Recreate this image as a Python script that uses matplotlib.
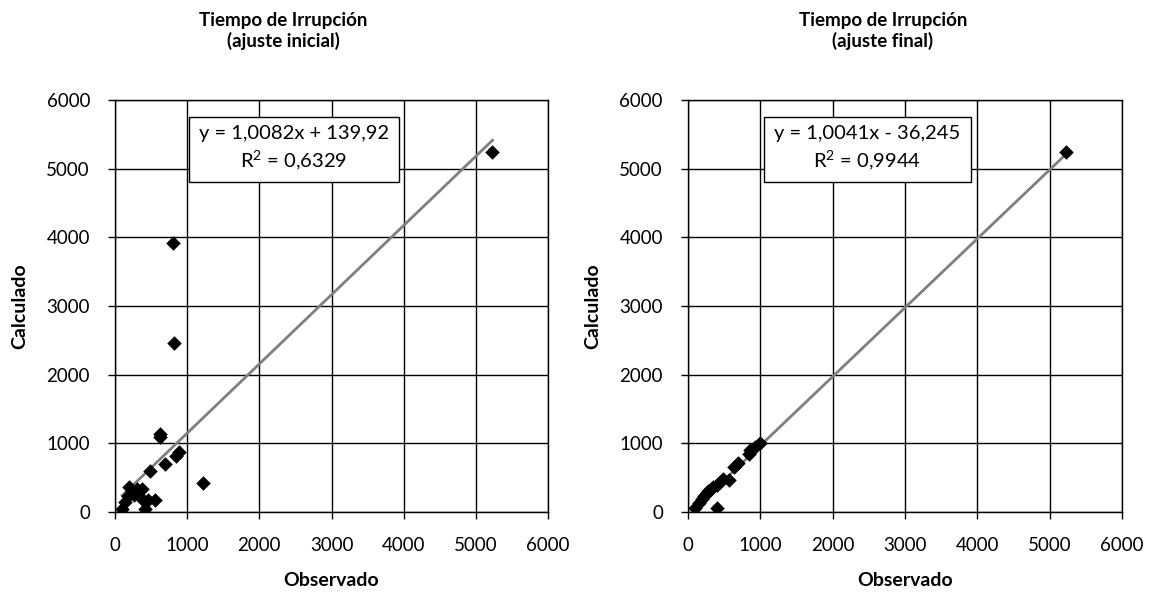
import matplotlib
matplotlib.use("Agg")
import matplotlib.pyplot as plt
import numpy as np

plt.rcParams['font.family'] = ['Lato', 'DejaVu Sans']
plt.rcParams['mathtext.fontset'] = 'custom'
plt.rcParams['mathtext.rm'] = 'Lato'
plt.rcParams['mathtext.it'] = 'Lato'
plt.rcParams['mathtext.default'] = 'regular'

# Data: left (ajuste inicial)
obs_ini = [100, 140, 180, 200, 230, 270, 300, 370, 390, 410, 460, 480, 560,
           620, 620, 690, 800, 820, 850, 880, 1220, 5230]
cal_ini = [50, 150, 230, 370, 300, 250, 330, 340, 180, 50, 170, 590, 170,
           1140, 1090, 700, 3920, 2460, 810, 880, 420, 5240]
# Data: right (ajuste final)
obs_fin = [100, 150, 190, 220, 250, 280, 320, 350, 400, 400, 440, 480, 560,
           640, 690, 840, 860, 920, 990, 5230]
cal_fin = [60, 130, 190, 230, 260, 300, 330, 370, 60, 400, 440, 480, 470,
           660, 720, 840, 900, 940, 1010, 5240]

fit_ini = (1.0082, 139.92)
fit_fin = (1.0041, -36.245)
eq_ini = "y = 1,0082x + 139,92\nR$^2$ = 0,6329"
eq_fin = "y = 1,0041x - 36,245\nR$^2$ = 0,9944"
titles = ["Tiempo de Irrupción\n(ajuste inicial)", "Tiempo de Irrupción\n(ajuste final)"]
ticks = [0, 1000, 2000, 3000, 4000, 5000, 6000]

fig = plt.figure(figsize=(11.5, 5.94), dpi=100)
W, H = 1150, 594
axes_px = [(115, 548), (688, 1122)]
top_px, bot_px = 100, 512
title_x = [283, 883]

panels = [(obs_ini, cal_ini, fit_ini, eq_ini), (obs_fin, cal_fin, fit_fin, eq_fin)]
for i, ((xs, ys, (m, b), eq), (l, r)) in enumerate(zip(panels, axes_px)):
    ax = fig.add_axes([l / W, (H - bot_px) / H, (r - l) / W, (bot_px - top_px) / H])
    ax.set_xlim(0, 6000)
    ax.set_ylim(0, 6000)
    ax.set_xticks(ticks)
    ax.set_yticks(ticks)
    ax.grid(True, color='black', linewidth=1.0)
    ax.set_axisbelow(True)
    for s in ax.spines.values():
        s.set_color('black')
        s.set_linewidth(1.0)
    ax.tick_params(direction='out', length=5, width=1, labelsize=13.5, colors='black')
    ax.tick_params(axis='x', pad=13)
    ax.tick_params(axis='y', pad=13)
    xx = np.array([min(xs), max(xs)])
    ax.plot(xx, m * xx + b, color='#7f7f7f', linewidth=2, zorder=3)
    ax.scatter(xs, ys, marker='D', s=55, color='black', zorder=4, linewidths=0)
    ax.text(2480, 5290, eq, ha='center', va='center', fontsize=14.5, linespacing=1.35,
            bbox=dict(boxstyle='square,pad=0.5', facecolor='white', edgecolor='black', linewidth=1),
            zorder=5)
    ax.set_xlabel("Observado", fontsize=14, fontweight='bold', labelpad=13)
    ax.set_ylabel("Calculado", fontsize=14, fontweight='bold', labelpad=13)
    fig.text(title_x[i] / W, 1 - 31 / H, titles[i], ha='center', va='center',
             fontsize=13.5, fontweight='bold', linespacing=1.2)

fig.savefig("out.png", dpi=100)
